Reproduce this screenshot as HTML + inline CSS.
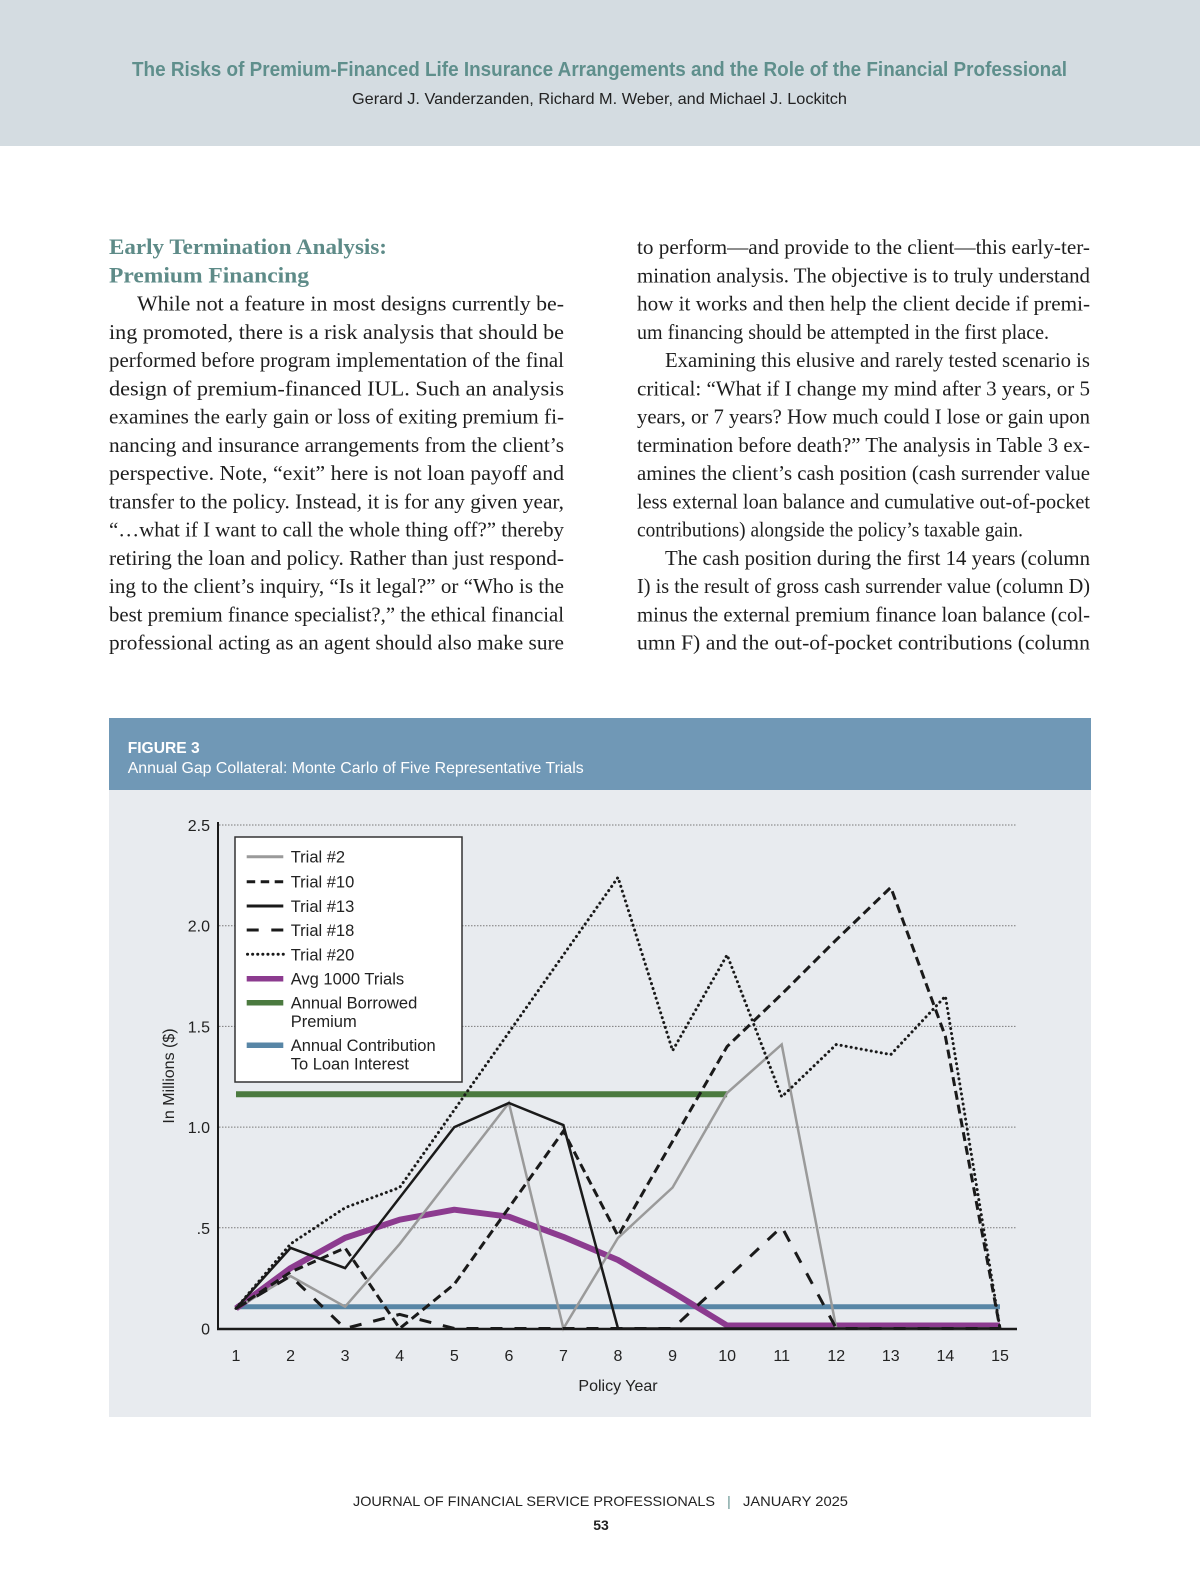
<!DOCTYPE html>
<html>
<head>
<meta charset="utf-8">
<style>
  html,body{margin:0;padding:0;background:#ffffff;}
  svg{display:block;}
  .serif{font-family:"Liberation Serif","DejaVu Serif",serif;}
  .sans{font-family:"Liberation Sans","DejaVu Sans",sans-serif;}
</style>
</head>
<body>
<svg width="1200" height="1582" viewBox="0 0 1200 1582" xmlns="http://www.w3.org/2000/svg">
  <!-- Header band -->
  <rect x="0" y="0" width="1200" height="146" fill="#d4dce1"/>
  <text class="sans" x="132" y="76" font-size="20" font-weight="bold" fill="#5f8f8c" textLength="935" lengthAdjust="spacingAndGlyphs">The Risks of Premium-Financed Life Insurance Arrangements and the Role of the Financial Professional</text>
  <text class="sans" x="352" y="104" font-size="16" fill="#222" textLength="495" lengthAdjust="spacingAndGlyphs">Gerard J. Vanderzanden, Richard M. Weber, and Michael J. Lockitch</text>

  <!-- Left column -->
  <g class="serif" font-size="21" fill="#1e1e1e">
    <text x="109" y="254" font-size="22" font-weight="bold" fill="#5e8b88" textLength="278" lengthAdjust="spacingAndGlyphs">Early Termination Analysis:</text>
    <text x="109" y="282.3" font-size="22" font-weight="bold" fill="#5e8b88" textLength="200" lengthAdjust="spacingAndGlyphs">Premium Financing</text>
    <text x="137" y="310.5" textLength="427" lengthAdjust="spacingAndGlyphs">While not a feature in most designs currently be-</text>
    <text x="109" y="338.8" textLength="455" lengthAdjust="spacingAndGlyphs">ing promoted, there is a risk analysis that should be</text>
    <text x="109" y="367" textLength="455" lengthAdjust="spacingAndGlyphs">performed before program implementation of the final</text>
    <text x="109" y="395.3" textLength="455" lengthAdjust="spacingAndGlyphs">design of premium-financed IUL. Such an analysis</text>
    <text x="109" y="423.5" textLength="455" lengthAdjust="spacingAndGlyphs">examines the early gain or loss of exiting premium fi-</text>
    <text x="109" y="451.8" textLength="455" lengthAdjust="spacingAndGlyphs">nancing and insurance arrangements from the client’s</text>
    <text x="109" y="480" textLength="455" lengthAdjust="spacingAndGlyphs">perspective. Note, “exit” here is not loan payoff and</text>
    <text x="109" y="508.3" textLength="455" lengthAdjust="spacingAndGlyphs">transfer to the policy. Instead, it is for any given year,</text>
    <text x="109" y="536.5" textLength="455" lengthAdjust="spacingAndGlyphs">“…what if I want to call the whole thing off?” thereby</text>
    <text x="109" y="564.8" textLength="455" lengthAdjust="spacingAndGlyphs">retiring the loan and policy. Rather than just respond-</text>
    <text x="109" y="593" textLength="455" lengthAdjust="spacingAndGlyphs">ing to the client’s inquiry, “Is it legal?” or “Who is the</text>
    <text x="109" y="621.3" textLength="455" lengthAdjust="spacingAndGlyphs">best premium finance specialist?,” the ethical financial</text>
    <text x="109" y="649.5" textLength="455" lengthAdjust="spacingAndGlyphs">professional acting as an agent should also make sure</text>
  </g>

  <!-- Right column -->
  <g class="serif" font-size="21" fill="#1e1e1e">
    <text x="637" y="254" textLength="453" lengthAdjust="spacingAndGlyphs">to perform—and provide to the client—this early-ter-</text>
    <text x="637" y="282.3" textLength="453" lengthAdjust="spacingAndGlyphs">mination analysis. The objective is to truly understand</text>
    <text x="637" y="310.5" textLength="453" lengthAdjust="spacingAndGlyphs">how it works and then help the client decide if premi-</text>
    <text x="637" y="338.8" textLength="412" lengthAdjust="spacingAndGlyphs">um financing should be attempted in the first place.</text>
    <text x="665" y="367" textLength="425" lengthAdjust="spacingAndGlyphs">Examining this elusive and rarely tested scenario is</text>
    <text x="637" y="395.3" textLength="453" lengthAdjust="spacingAndGlyphs">critical: “What if I change my mind after 3 years, or 5</text>
    <text x="637" y="423.5" textLength="453" lengthAdjust="spacingAndGlyphs">years, or 7 years? How much could I lose or gain upon</text>
    <text x="637" y="451.8" textLength="453" lengthAdjust="spacingAndGlyphs">termination before death?” The analysis in Table 3 ex-</text>
    <text x="637" y="480" textLength="453" lengthAdjust="spacingAndGlyphs">amines the client’s cash position (cash surrender value</text>
    <text x="637" y="508.3" textLength="453" lengthAdjust="spacingAndGlyphs">less external loan balance and cumulative out-of-pocket</text>
    <text x="637" y="536.5" textLength="386" lengthAdjust="spacingAndGlyphs">contributions) alongside the policy’s taxable gain.</text>
    <text x="665" y="564.8" textLength="425" lengthAdjust="spacingAndGlyphs">The cash position during the first 14 years (column</text>
    <text x="637" y="593" textLength="453" lengthAdjust="spacingAndGlyphs">I) is the result of gross cash surrender value (column D)</text>
    <text x="637" y="621.3" textLength="453" lengthAdjust="spacingAndGlyphs">minus the external premium finance loan balance (col-</text>
    <text x="637" y="649.5" textLength="453" lengthAdjust="spacingAndGlyphs">umn F) and the out-of-pocket contributions (column</text>
  </g>

  <!-- Figure -->
  <rect x="109" y="718" width="982" height="72" fill="#7098b6"/>
  <rect x="109" y="790" width="982" height="627" fill="#e8ebef"/>
  <text class="sans" x="127.7" y="753" font-size="16" font-weight="bold" fill="#ffffff" textLength="72" lengthAdjust="spacingAndGlyphs">FIGURE 3</text>
  <text class="sans" x="127.7" y="773" font-size="16" fill="#ffffff" textLength="456" lengthAdjust="spacingAndGlyphs">Annual Gap Collateral: Monte Carlo of Five Representative Trials</text>

  <!-- Gridlines -->
  <g stroke="#7a7a7a" stroke-width="1" stroke-dasharray="1.5 1.5" fill="none">
    <line x1="219" y1="825" x2="1017" y2="825"/>
    <line x1="219" y1="925.7" x2="1017" y2="925.7"/>
    <line x1="219" y1="1026.4" x2="1017" y2="1026.4"/>
    <line x1="219" y1="1127.1" x2="1017" y2="1127.1"/>
    <line x1="219" y1="1227.8" x2="1017" y2="1227.8"/>
  </g>

  <!-- Y tick labels -->
  <g class="sans" font-size="16" fill="#222" text-anchor="end">
    <text x="210" y="831">2.5</text>
    <text x="210" y="931.7">2.0</text>
    <text x="210" y="1032.4">1.5</text>
    <text x="210" y="1133.1">1.0</text>
    <text x="210" y="1233.8">.5</text>
    <text x="210" y="1334.5">0</text>
  </g>
  <text class="sans" font-size="16" fill="#222" text-anchor="middle" transform="translate(174,1076) rotate(-90)">In Millions ($)</text>

  <!-- X tick labels -->
  <g class="sans" font-size="16" fill="#222" text-anchor="middle">
    <text x="236" y="1361">1</text>
    <text x="290.6" y="1361">2</text>
    <text x="345.1" y="1361">3</text>
    <text x="399.7" y="1361">4</text>
    <text x="454.3" y="1361">5</text>
    <text x="508.9" y="1361">6</text>
    <text x="563.4" y="1361">7</text>
    <text x="618" y="1361">8</text>
    <text x="672.6" y="1361">9</text>
    <text x="727.1" y="1361">10</text>
    <text x="781.7" y="1361">11</text>
    <text x="836.3" y="1361">12</text>
    <text x="890.8" y="1361">13</text>
    <text x="945.4" y="1361">14</text>
    <text x="1000" y="1361">15</text>
  </g>
  <text class="sans" x="618" y="1391" font-size="16" fill="#222" text-anchor="middle">Policy Year</text>

  <!-- Reference bars -->
  <line x1="236" y1="1306.7" x2="1000" y2="1306.7" stroke="#5886a6" stroke-width="5"/>
  <line x1="236" y1="1094.3" x2="727.1" y2="1094.3" stroke="#4b7a3f" stroke-width="6"/>

  <!-- Avg 1000 trials -->
  <polyline fill="none" stroke="#8c3b8f" stroke-width="6" stroke-linejoin="round" points="236,1308.4 290.6,1268.1 345.1,1237.9 399.7,1219.7 454.3,1209.7 508.9,1216.7 563.4,1236.9 618,1260 672.6,1292.2 727.1,1325.5 1000,1325.5"/>

  <!-- Axes -->
  <line x1="218" y1="822" x2="218" y2="1330" stroke="#1a1a1a" stroke-width="2"/>
  <line x1="217" y1="1329" x2="1017" y2="1329" stroke="#1a1a1a" stroke-width="2.5"/>

  <!-- Trial #2 -->
  <polyline fill="none" stroke="#9a9a9a" stroke-width="2.5" points="236,1308.4 290.6,1276.1 345.1,1306.7 399.7,1243.9 454.3,1173.4 508.9,1103 563.4,1328.5 618,1237.9 672.6,1187.5 727.1,1092.9 781.7,1044.5 836.3,1328.5 1000,1328.5"/>
  <!-- Trial #13 -->
  <polyline fill="none" stroke="#1a1a1a" stroke-width="2.5" points="236,1308.4 290.6,1247.9 345.1,1268.1 454.3,1127.1 508.9,1103 563.4,1125.1 618,1328.5 1000,1328.5"/>
  <!-- Trial #10 -->
  <polyline fill="none" stroke="#1a1a1a" stroke-width="3" stroke-dasharray="9 5" points="236,1308.4 290.6,1272.1 345.1,1247.9 399.7,1328.5 454.3,1284.2 508.9,1207.7 563.4,1131.1 618,1235.9 672.6,1141.2 727.1,1046.5 781.7,994.2 836.3,939.8 890.8,887.4 945.4,1036.5 1000,1328.5"/>
  <!-- Trial #18 -->
  <polyline fill="none" stroke="#1a1a1a" stroke-width="3" stroke-dasharray="12 12" points="236,1308.4 290.6,1276.1 345.1,1328.5 399.7,1314.4 454.3,1328.5 672.6,1328.5 727.1,1278.2 781.7,1226.8 836.3,1328.5 1000,1328.5"/>
  <!-- Trial #20 -->
  <polyline fill="none" stroke="#1a1a1a" stroke-width="3" stroke-dasharray="0.1 5" stroke-linecap="round" points="236,1308.4 290.6,1243.9 345.1,1207.7 399.7,1187.5 618,877.4 672.6,1050.6 727.1,954.9 781.7,1096.9 836.3,1044.5 890.8,1054.6 945.4,996.2 1000,1328.5"/>

  <!-- Legend -->
  <rect x="235" y="837" width="227" height="245" fill="#ffffff" stroke="#333" stroke-width="1.5"/>
  <g fill="none">
    <line x1="246.7" y1="856.7" x2="283.3" y2="856.7" stroke="#9a9a9a" stroke-width="3"/>
    <line x1="246.7" y1="881.7" x2="283.3" y2="881.7" stroke="#1a1a1a" stroke-width="3" stroke-dasharray="8.5 5.5"/>
    <line x1="246.7" y1="906" x2="283.3" y2="906" stroke="#1a1a1a" stroke-width="3"/>
    <line x1="246.7" y1="930" x2="283.3" y2="930" stroke="#1a1a1a" stroke-width="3" stroke-dasharray="12 12.6"/>
    <line x1="247.5" y1="954.3" x2="283.3" y2="954.3" stroke="#1a1a1a" stroke-width="3" stroke-dasharray="0.1 5" stroke-linecap="round"/>
    <line x1="246.7" y1="978.7" x2="283.3" y2="978.7" stroke="#8c3b8f" stroke-width="5.5"/>
    <line x1="246.7" y1="1002.7" x2="283.3" y2="1002.7" stroke="#4b7a3f" stroke-width="5.5"/>
    <line x1="246.7" y1="1045.3" x2="283.3" y2="1045.3" stroke="#5886a6" stroke-width="5.5"/>
  </g>
  <g class="sans" font-size="16.5" fill="#222">
    <text x="290.7" y="862.5">Trial #2</text>
    <text x="290.7" y="887.5">Trial #10</text>
    <text x="290.7" y="911.8">Trial #13</text>
    <text x="290.7" y="936">Trial #18</text>
    <text x="290.7" y="960.3">Trial #20</text>
    <text x="290.7" y="984.6">Avg 1000 Trials</text>
    <text x="290.7" y="1008.6">Annual Borrowed</text>
    <text x="290.7" y="1027">Premium</text>
    <text x="290.7" y="1051.2">Annual Contribution</text>
    <text x="290.7" y="1069.3">To Loan Interest</text>
  </g>

  <!-- Footer -->
  <text class="sans" x="353" y="1506" font-size="14" fill="#222" textLength="362" lengthAdjust="spacingAndGlyphs">JOURNAL OF FINANCIAL SERVICE PROFESSIONALS</text>
  <text class="sans" x="729" y="1506" font-size="14" fill="#5f8f8c" text-anchor="middle">|</text>
  <text class="sans" x="743" y="1506" font-size="14" fill="#222" textLength="105" lengthAdjust="spacingAndGlyphs">JANUARY 2025</text>
  <text class="sans" x="601" y="1530" font-size="14" font-weight="bold" fill="#222" text-anchor="middle">53</text>
</svg>
</body>
</html>
